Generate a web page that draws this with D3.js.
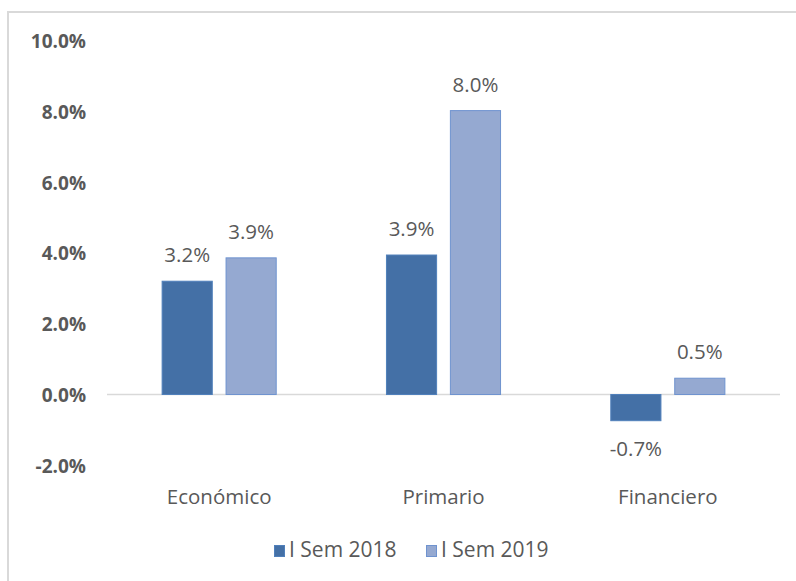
<!DOCTYPE html>
<html>
<head>
<meta charset="utf-8">
<script src="https://cdn.jsdelivr.net/npm/d3@7"></script>
<style>
  body { margin: 0; background: #fff; }
  text { font-family: "Open Sans", sans-serif; }
</style>
</head>
<body>
<div id="chart"></div>
<script>
var categories = ['Económico', 'Primario', 'Financiero'];
var series = ['I Sem 2018', 'I Sem 2019'];
var sem2018 = [3.2, 3.94, -0.74];
var sem2019 = [3.86, 8.02, 0.46];
var yTicks = [-2, 0, 2, 4, 6, 8, 10];
var colors = ['#4470a6', '#95a9d1'];
var strokes = ['#5080bb', '#6f93cf'];

var chartWidth = 796;
var chartHeight = 581;

function pct(v) {
  return v.toFixed(1) + '%';
}

var rows = categories.map(function(c, i) {
  return { cat: c, values: [sem2018[i], sem2019[i]] };
});

var svg = d3.select('#chart')
    .append('svg')
    .attr('width', chartWidth)
    .attr('height', chartHeight);

// outer frame
svg.append('rect')
    .attr('x', 8)
    .attr('y', 12)
    .attr('width', 820)
    .attr('height', 620)
    .attr('fill', 'none')
    .attr('stroke', '#d9d9d9')
    .attr('stroke-width', 2);

// Scales
var scaleX = d3.scaleBand()
    .domain(categories)
    .range([107, 780])
    .paddingInner(0.487)
    .paddingOuter(0.2435);

var scaleS = d3.scaleBand()
    .domain(series)
    .range([0, scaleX.bandwidth()])
    .paddingInner(0.2);

var scaleY = d3.scaleLinear()
    .domain([-2, 10])
    .range([465.3, 40.5]);

// Y axis labels
var yAxis = d3.axisLeft(scaleY)
    .tickValues(yTicks)
    .tickSize(0)
    .tickPadding(0)
    .tickFormat(pct);

var gy = svg.append('g')
    .attr('transform', 'translate(86,1)')
    .call(yAxis);
gy.select('.domain').remove();
gy.selectAll('text')
    .attr('font-family', '"Open Sans", sans-serif')
    .attr('font-size', 19)
    .attr('font-weight', 'bold')
    .attr('fill', '#595959');

// Zero line
svg.append('line')
    .attr('x1', 107)
    .attr('x2', 780)
    .attr('y1', scaleY(0))
    .attr('y2', scaleY(0))
    .attr('stroke', '#d9d9d9')
    .attr('stroke-width', 1.3);

// Bars
var groups = svg.selectAll('g.cat')
    .data(rows)
    .enter()
    .append('g')
    .attr('class', 'cat')
    .attr('transform', function(d) {
      return 'translate(' + scaleX(d.cat) + ',0)';
    });

groups.selectAll('rect')
    .data(function(d) {
      return d.values.map(function(v, i) { return { s: series[i], v: v, i: i }; });
    })
    .enter()
    .append('rect')
    .attr('x', function(d) { return scaleS(d.s) + 0.5; })
    .attr('y', function(d) { return scaleY(Math.max(0, d.v)); })
    .attr('width', scaleS.bandwidth() - 1)
    .attr('height', function(d) { return Math.abs(scaleY(d.v) - scaleY(0)); })
    .attr('fill', function(d) { return colors[d.i]; })
    .attr('stroke', function(d) { return strokes[d.i]; })
    .attr('stroke-width', 1);

// Data labels
groups.selectAll('text.lbl')
    .data(function(d) {
      return d.values.map(function(v, i) { return { s: series[i], v: v }; });
    })
    .enter()
    .append('text')
    .attr('class', 'lbl')
    .attr('x', function(d) { return scaleS(d.s) + scaleS.bandwidth() / 2; })
    .attr('y', function(d) {
      return d.v >= 0 ? scaleY(d.v) - 19 : scaleY(d.v) + 35;
    })
    .attr('text-anchor', 'middle')
    .attr('font-size', 20.5)
    .attr('fill', '#595959')
    .text(function(d) { return pct(d.v); });

// Category labels
var xAxis = d3.axisBottom(scaleX).tickSize(0).tickPadding(0);
var gx = svg.append('g')
    .attr('transform', 'translate(0,504)')
    .call(xAxis);
gx.select('.domain').remove();
gx.selectAll('text')
    .attr('font-family', '"Open Sans", sans-serif')
    .attr('font-size', 20.5)
    .attr('fill', '#595959')
    .attr('dy', 0);

// Legend
var legendX = [274, 426];
var legend = svg.selectAll('g.legend')
    .data(series)
    .enter()
    .append('g')
    .attr('class', 'legend')
    .attr('transform', function(d, i) { return 'translate(' + legendX[i] + ',545)'; });

legend.append('rect')
    .attr('x', 0.5)
    .attr('y', 0.5)
    .attr('width', 10)
    .attr('height', 11)
    .attr('fill', function(d, i) { return colors[i]; })
    .attr('stroke', function(d, i) { return strokes[i]; });

legend.append('text')
    .attr('x', 15)
    .attr('y', 12)
    .attr('font-size', 21)
    .attr('fill', '#595959')
    .text(function(d) { return d; });
</script>
</body>
</html>
